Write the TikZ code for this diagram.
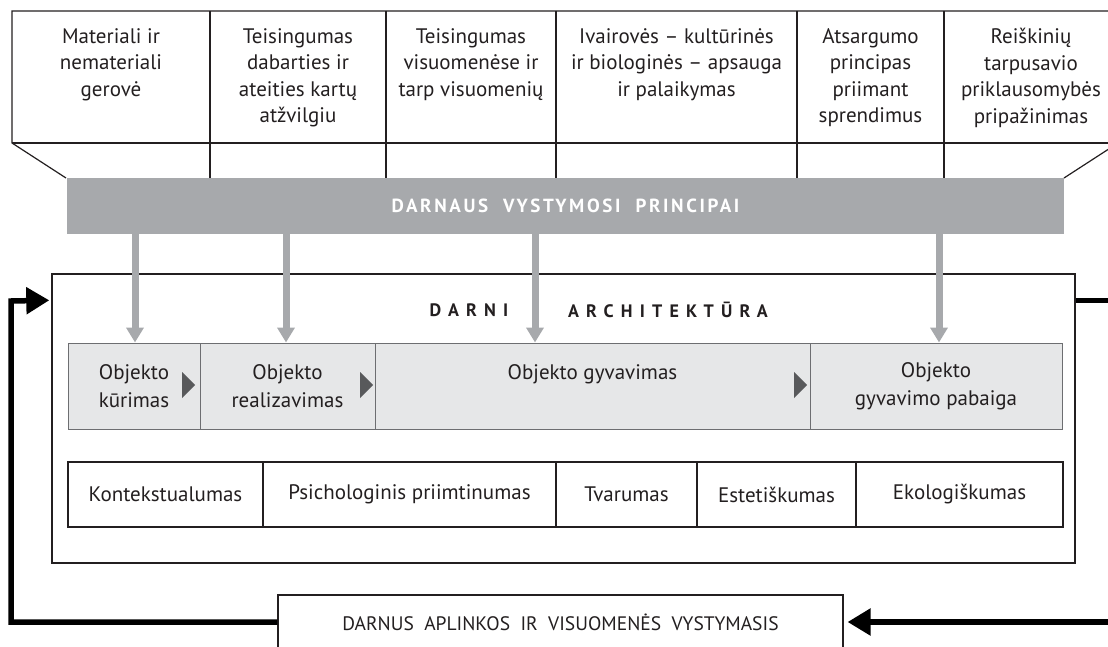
\documentclass[tikz,border=0pt]{standalone}
\usepackage{fontspec}
\setmainfont{PT Sans}
\newfontfamily\titlefont[LetterSpace=40]{PT Sans}
\newfontfamily\barfont[LetterSpace=14]{PT Sans}
\usetikzlibrary{arrows.meta,calc}
\definecolor{bargray}{HTML}{A7A9AC}
\definecolor{rowfill}{HTML}{E6E7E8}
\definecolor{rowline}{HTML}{6D6E71}
\definecolor{trigray}{HTML}{58595B}
\definecolor{ink}{HTML}{231F20}
\begin{document}
\begin{tikzpicture}[x=1pt,y=-1pt,
  tline/.style={line width=1.2pt,draw=ink},
  ptext/.style={anchor=north,align=center,inner sep=0pt,font=\fontsize{21}{26.5}\selectfont,text=ink},
  bar/.style={fill=bargray,minimum width=997pt,minimum height=56pt,inner sep=0pt,text=white,font=\barfont\bfseries\fontsize{19}{19}\selectfont},
  bigbox/.style={draw=ink,line width=1.4pt,minimum width=1023pt,minimum height=289pt,inner sep=0pt},
  titletext/.style={inner sep=0pt,text=ink,font=\titlefont\bfseries\fontsize{18}{18}\selectfont},
  objbox/.style={draw=rowline,fill=rowfill,line width=1pt,minimum height=86pt,inner sep=0pt,align=center,text=ink,font=\fontsize{21}{28}\selectfont},
  propbox/.style={draw=ink,line width=1.3pt,minimum height=65pt,inner sep=0pt,align=center,text=ink,font=\fontsize{21}{24}\selectfont},
  envbox/.style={draw=ink,fill=white,line width=1.2pt,minimum width=565pt,minimum height=54pt,inner sep=0pt,text=ink,font=\fontsize{19.5}{22}\selectfont},
  garrow/.style={draw=bargray,line width=7pt,-{Triangle[width=17pt,length=15pt]}},
  fb/.style={draw=black,line width=5.5pt,line join=miter,-{Triangle[width=26pt,length=23pt]}},
  trimark/.style={fill=trigray}]
\useasboundingbox (0,0) rectangle (1108,647);
\clip (0,0) rectangle (1108,647);

% top table of principles
\draw[tline] (66,178) -- (12,143) -- (12,11) -- (1118,11) -- (1118,143) -- (1064,178);
\draw[tline] (12,143) -- (1118,143);
\foreach \x in {210,386,556,797,944} \draw[tline] (\x,11) -- (\x,178);

\node[ptext] (p1) at (111,28) {Materiali ir\\nemateriali\\gerovė};
\node[ptext] (p2) at (298,28) {Teisingumas\\dabarties ir\\ateities kartų\\atžvilgiu};
\node[ptext] (p3) at (471,28) {Teisingumas\\visuomenėse ir\\tarp visuomenių};
\node[ptext] (p4) at (676.5,28) {Ivairovės – kultūrinės\\ir biologinės – apsauga\\ir palaikymas};
\node[ptext] (p5) at (870.5,28) {Atsargumo\\principas\\priimant\\sprendimus};
\node[ptext] (p6) at (1031,28) {Reiškinių\\tarpusavio\\priklausomybės\\pripažinimas};

% principles bar
\node[bar] (dvp) at (565.5,206) {DARNAUS\ \ VYSTYMOSI\ \ PRINCIPAI};

% sustainable architecture box
\node[bigbox] (darni) at (563.5,418.5) {};
\node[titletext] (t1) at (469,310) {DARNI};
\node[titletext] (t2) at (668,310) {ARCHITEKTŪRA};

% object stages
\node[objbox,minimum width=132pt] (o1) at (134,386) {Objekto\\kūrimas};
\node[objbox,minimum width=175pt] (o2) at (287.5,386) {Objekto\\realizavimas};
\node[objbox,minimum width=435pt] (o3) at (592.5,386) {Objekto gyvavimas\\\mbox{}};
\node[objbox,minimum width=252pt] (o4) at (936,386) {Objekto\\gyvavimo pabaiga};

\fill[trimark] (182,372) -- (195,385) -- (182,398) -- cycle;
\fill[trimark] (360,372) -- (373,385) -- (360,398) -- cycle;
\fill[trimark] (794,372) -- (807,385) -- (794,398) -- cycle;

% properties
\node[propbox,minimum width=195pt] (k1) at (165.5,494.5) {Kontekstualumas};
\node[propbox,minimum width=293pt] (k2) at (409.5,494.5) {Psichologinis priimtinumas};
\node[propbox,minimum width=141pt] (k3) at (626.5,494.5) {Tvarumas};
\node[propbox,minimum width=159pt] (k4) at (776.5,494.5) {Estetiškumas};
\node[propbox,minimum width=207pt] (k5) at (959.5,494.5) {Ekologiškumas};

% principle arrows
\coordinate (g1) at (135,0);
\coordinate (g2) at (286,0);
\coordinate (g3) at (535,0);
\coordinate (g4) at (939,0);
\draw[garrow] (dvp.south -| g1) -- (o1.north -| g1);
\draw[garrow] (dvp.south -| g2) -- (o2.north -| g2);
\draw[garrow] (dvp.south -| g3) -- (o3.north -| g3);
\draw[garrow] (dvp.south -| g4) -- (o4.north -| g4);

% environment box and feedback loop
\node[envbox] (env) at (560.5,622) {DARNUS\ \ APLINKOS\ \ IR\ \ VISUOMENĖS\ \ VYSTYMASIS};
\draw[fb] (env.west) -| (11,301) -- ($(darni.north west)+(-2,27)$);
\draw[fb] ($(darni.north east)+(0,27)$) -| (1125,622) -- ($(env.east)+(4,0)$);
\end{tikzpicture}
\end{document}
